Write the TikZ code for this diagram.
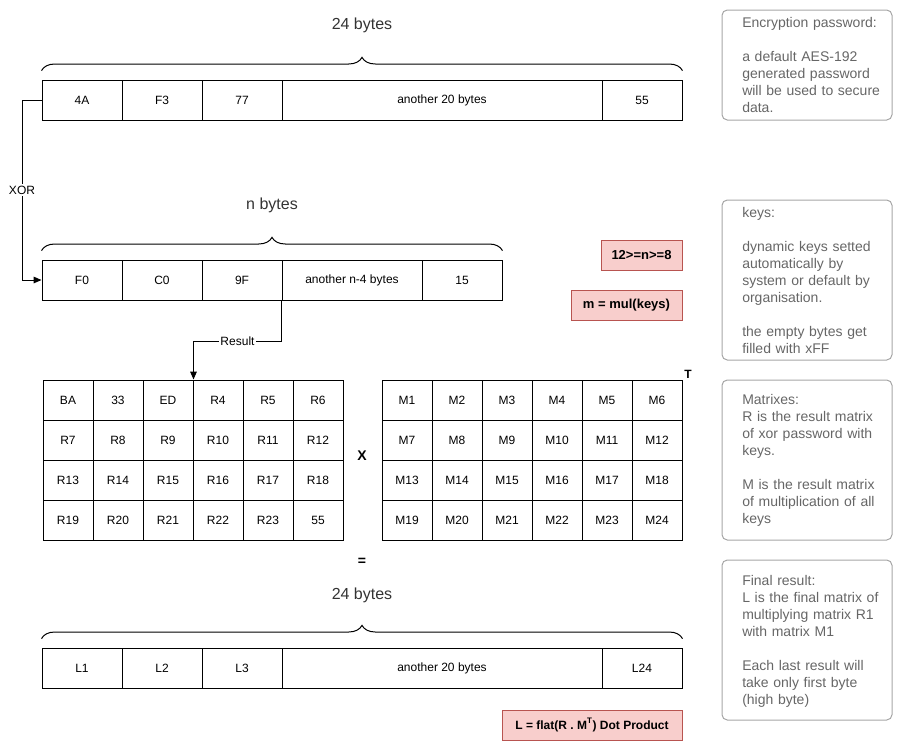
\documentclass[tikz,border=0pt]{standalone}
\usepackage{fontspec}
\setmainfont{Liberation Sans}
\usetikzlibrary{arrows.meta,decorations.pathreplacing}
\definecolor{redfill}{HTML}{F8CECC}
\definecolor{reddraw}{HTML}{B85450}
\definecolor{notetext}{HTML}{666666}
\definecolor{noteline}{HTML}{A6A6A6}
\begin{document}
\begin{tikzpicture}
  [x=0.75pt, y=-0.75pt,
   font=\fontsize{9}{10.8}\selectfont,
   inner sep=0pt,
   byte/.style={draw,line width=0.75pt,minimum width=60pt,minimum height=30pt},
   rest/.style={byte,minimum width=240pt},
   restkey/.style={byte,minimum width=105pt},
   cell/.style={draw,line width=0.75pt,minimum width=37.5pt,minimum height=30pt},
   bytes/.style={font=\fontsize{12}{14}\selectfont,text=black!80},
   brace/.style={decorate,decoration={brace,amplitude=10pt},line width=0.75pt},
   flow/.style={-{Triangle[length=6pt,width=5pt]},line width=0.75pt},
   wire/.style={fill=white,inner sep=1pt},
   formula/.style={draw=reddraw,fill=redfill,line width=0.75pt,minimum height=22.5pt,font=\fontsize{9.75}{11.5}\selectfont\bfseries},
   note/.style={draw=noteline,rounded corners=4pt,line width=0.75pt,minimum width=127.5pt},
   notebody/.style={anchor=north west,text width=125pt,align=left,text=notetext,font=\fontsize{10.5}{12.75}\selectfont},
   op/.style={font=\fontsize{10.5}{12}\selectfont\bfseries}]
  \useasboundingbox (0,0) rectangle (903,751);

  % encryption password
  \node at (362,25) (pwlen) [bytes] {24 bytes};
  \node at (82,100) (p1) [byte] {4A};
  \node at (162,100) (p2) [byte] {F3};
  \node at (242,100) (p3) [byte] {77};
  \node at (442,100) (p4) [rest] {another 20 bytes};
  \node at (642,100) (p5) [byte] {55};
  \draw [brace] ([yshift=22pt]p1.west) -- ([yshift=22pt]p5.east);

  % keys
  \node at (272,205) (keylen) [bytes] {n bytes};
  \node at (82,280) (k1) [byte] {F0};
  \node at (162,280) (k2) [byte] {C0};
  \node at (242,280) (k3) [byte] {9F};
  \node at (352,280) (k4) [restkey] {another n-4 bytes};
  \node at (462,280) (k5) [byte] {15};
  \draw [brace] ([yshift=22pt]k1.west) -- ([yshift=22pt]k5.east);

  \coordinate (xorbend) at (22,100);
  \draw [flow] (p1.west) -- (xorbend) |- node [pos=0.25,wire] {XOR} (k1.west);

  \node at (641.5,255) (range) [formula,minimum width=60.75pt] {12>=n>=8};
  \node at (626.5,305) (mul) [formula,minimum width=83.25pt] {m = mul(keys)};

  % matrix R
  \node at (68,400) (r1) [cell] {BA};
  \node at (118,400) (r2) [cell] {33};
  \node at (168,400) (r3) [cell] {ED};
  \node at (218,400) (r4) [cell] {R4};
  \node at (268,400) (r5) [cell] {R5};
  \node at (318,400) (r6) [cell] {R6};
  \node at (68,440) (r7) [cell] {R7};
  \node at (118,440) (r8) [cell] {R8};
  \node at (168,440) (r9) [cell] {R9};
  \node at (218,440) (r10) [cell] {R10};
  \node at (268,440) (r11) [cell] {R11};
  \node at (318,440) (r12) [cell] {R12};
  \node at (68,480) (r13) [cell] {R13};
  \node at (118,480) (r14) [cell] {R14};
  \node at (168,480) (r15) [cell] {R15};
  \node at (218,480) (r16) [cell] {R16};
  \node at (268,480) (r17) [cell] {R17};
  \node at (318,480) (r18) [cell] {R18};
  \node at (68,520) (r19) [cell] {R19};
  \node at (118,520) (r20) [cell] {R20};
  \node at (168,520) (r21) [cell] {R21};
  \node at (218,520) (r22) [cell] {R22};
  \node at (268,520) (r23) [cell] {R23};
  \node at (318,520) (r24) [cell] {55};

  \draw [flow] (k4.south west) -- ++(0,41) -| node [pos=0.25,wire] {Result} (r3.north east);

  \node at (362,456) (times) [op] {X};

  % matrix M
  \node at (407,400) (m1) [cell] {M1};
  \node at (457,400) (m2) [cell] {M2};
  \node at (507,400) (m3) [cell] {M3};
  \node at (557,400) (m4) [cell] {M4};
  \node at (607,400) (m5) [cell] {M5};
  \node at (657,400) (m6) [cell] {M6};
  \node at (407,440) (m7) [cell] {M7};
  \node at (457,440) (m8) [cell] {M8};
  \node at (507,440) (m9) [cell] {M9};
  \node at (557,440) (m10) [cell] {M10};
  \node at (607,440) (m11) [cell] {M11};
  \node at (657,440) (m12) [cell] {M12};
  \node at (407,480) (m13) [cell] {M13};
  \node at (457,480) (m14) [cell] {M14};
  \node at (507,480) (m15) [cell] {M15};
  \node at (557,480) (m16) [cell] {M16};
  \node at (607,480) (m17) [cell] {M17};
  \node at (657,480) (m18) [cell] {M18};
  \node at (407,520) (m19) [cell] {M19};
  \node at (457,520) (m20) [cell] {M20};
  \node at (507,520) (m21) [cell] {M21};
  \node at (557,520) (m22) [cell] {M22};
  \node at (607,520) (m23) [cell] {M23};
  \node at (657,520) (m24) [cell] {M24};
  \node at (688,374) (transp) [op,font=\fontsize{9}{10}\selectfont\bfseries] {T};

  \node at (362,562) (equals) [op] {=};

  % result L
  \node at (362,595) (llen) [bytes] {24 bytes};
  \node at (82,668) (l1) [byte] {L1};
  \node at (162,668) (l2) [byte] {L2};
  \node at (242,668) (l3) [byte] {L3};
  \node at (442,668) (l4) [rest] {another 20 bytes};
  \node at (642,668) (l5) [byte] {L24};
  \draw [brace] ([yshift=22pt]l1.west) -- ([yshift=22pt]l5.east);

  \node at (592,725) (flat) [formula,minimum width=135pt,font=\fontsize{9}{10.8}\selectfont\bfseries] {L = flat(R . M\textsuperscript{T}) Dot Product};

  % notes
  \node at (807,65) (note1) [note,minimum height=82.5pt] {};
  \node at (742,17) (note1txt) [notebody] {Encryption password:\\[12.75pt]
    a default AES-192\\ generated password\\ will be used to secure\\ data.};
  \node at (807,280) (note2) [note,minimum height=120pt] {};
  \node at (742,207) (note2txt) [notebody] {keys:\\[12.75pt]
    dynamic keys setted\\ automatically by\\ system or default by\\ organisation.\\[12.75pt]
    the empty bytes get\\ filled with xFF};
  \node at (807,460) (note3) [note,minimum height=120pt] {};
  \node at (742,394) (note3txt) [notebody] {Matrixes:\\ R is the result matrix\\ of xor password with\\ keys.\\[12.75pt]
    M is the result matrix\\ of multiplication of all\\ keys};
  \node at (807,640) (note4) [note,minimum height=120pt] {};
  \node at (742,575) (note4txt) [notebody] {Final result:\\ L is the final matrix of\\ multiplying matrix R1\\ with matrix M1\\[12.75pt]
    Each last result will\\ take only first byte\\ (high byte)};
\end{tikzpicture}
\end{document}
